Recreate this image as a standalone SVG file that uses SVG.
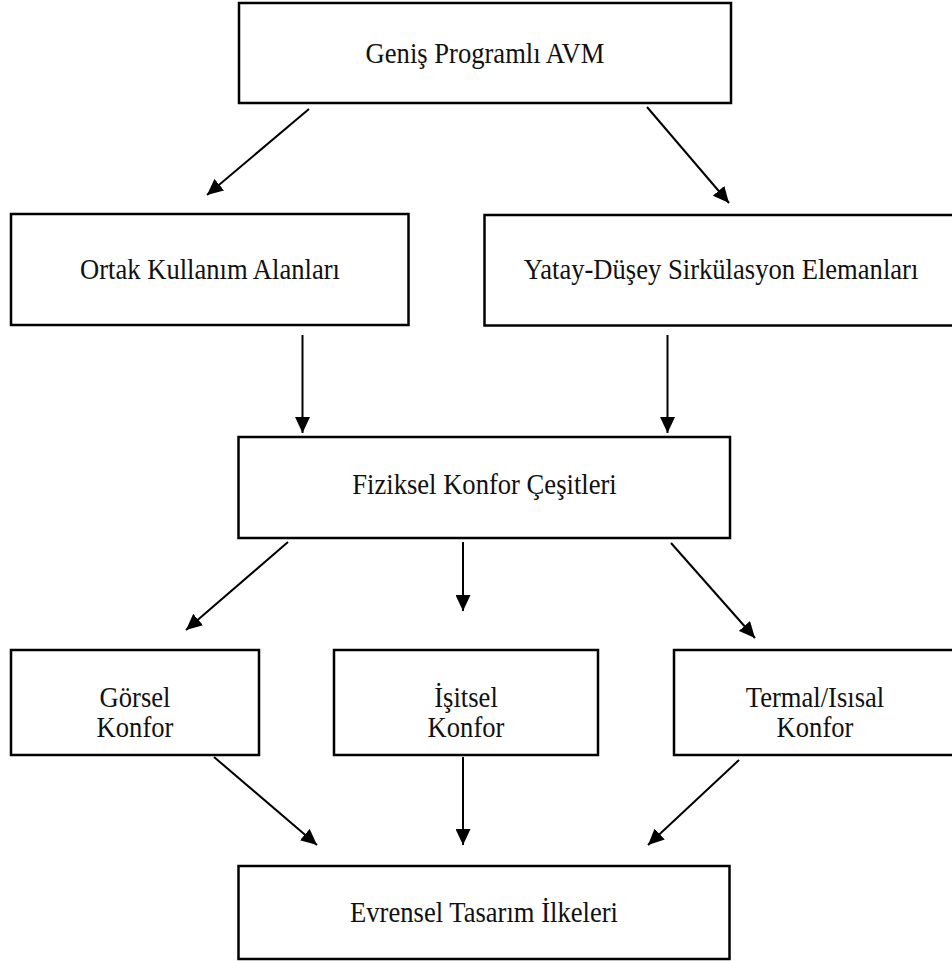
<svg xmlns="http://www.w3.org/2000/svg" width="952" height="961" viewBox="0 0 952 961">
<style>
.box{fill:none;stroke:#000;stroke-width:2.5}
.lbl{font-family:"Liberation Serif","Times New Roman",serif;font-size:26.6px;fill:#111;text-anchor:middle}
.con line{stroke:#000;stroke-width:2;marker-end:url(#ah)}
</style>
<defs>
<marker id="ah" viewBox="0 0 16 15" refX="16" refY="7.5" markerWidth="16" markerHeight="15" markerUnits="userSpaceOnUse" orient="auto">
<path d="M0,0 L16,7.5 L0,15 z" fill="#000"/>
</marker>
</defs>
<rect width="952" height="961" fill="#fff"/>
<g id="n-genis"><rect class="box" x="239" y="3" width="492" height="100"/><text class="lbl" transform="translate(485,62.5) scale(1,1.12)">Geniş Programlı AVM</text></g>
<g id="n-ortak"><rect class="box" x="11" y="214" width="397.5" height="111"/><text class="lbl" transform="translate(210,278.5) scale(1,1.12)">Ortak Kullanım Alanları</text></g>
<g id="n-yatay"><rect class="box" x="484.5" y="215" width="473" height="110.5"/><text class="lbl" transform="translate(721,278.5) scale(1,1.12)">Yatay-Düşey Sirkülasyon Elemanları</text></g>
<g id="n-fiziksel"><rect class="box" x="238.5" y="437" width="491.5" height="101"/><text class="lbl" transform="translate(484.5,494) scale(1,1.12)">Fiziksel Konfor Çeşitleri</text></g>
<g id="n-gorsel"><rect class="box" x="11" y="650" width="248" height="105"/><text class="lbl" transform="translate(135,706.5) scale(1,1.12)">Görsel</text><text class="lbl" transform="translate(135,736.7) scale(1,1.12)">Konfor</text></g>
<g id="n-isitsel"><rect class="box" x="334" y="650" width="264" height="105"/><text class="lbl" transform="translate(466,706.5) scale(1,1.12)">İşitsel</text><text class="lbl" transform="translate(466,736.7) scale(1,1.12)">Konfor</text></g>
<g id="n-termal"><rect class="box" x="674" y="650" width="283" height="105"/><text class="lbl" transform="translate(815,706.5) scale(1,1.12)">Termal/Isısal</text><text class="lbl" transform="translate(815,736.7) scale(1,1.12)">Konfor</text></g>
<g id="n-evrensel"><rect class="box" x="238.5" y="866" width="491" height="93"/><text class="lbl" transform="translate(484,921.7) scale(1,1.12)">Evrensel Tasarım İlkeleri</text></g>
<g id="connectors" class="con">
<line x1="309" y1="109" x2="207" y2="195"/>
<line x1="647" y1="107" x2="729" y2="203"/>
<line x1="302.5" y1="335" x2="302.5" y2="433"/>
<line x1="667.5" y1="335" x2="667.5" y2="433"/>
<line x1="288" y1="542" x2="186" y2="630"/>
<line x1="463" y1="542" x2="463" y2="611"/>
<line x1="671" y1="543" x2="755" y2="638"/>
<line x1="214" y1="757" x2="317" y2="845"/>
<line x1="463" y1="757" x2="463" y2="845"/>
<line x1="739" y1="760" x2="648" y2="845"/>
</g>
</svg>
